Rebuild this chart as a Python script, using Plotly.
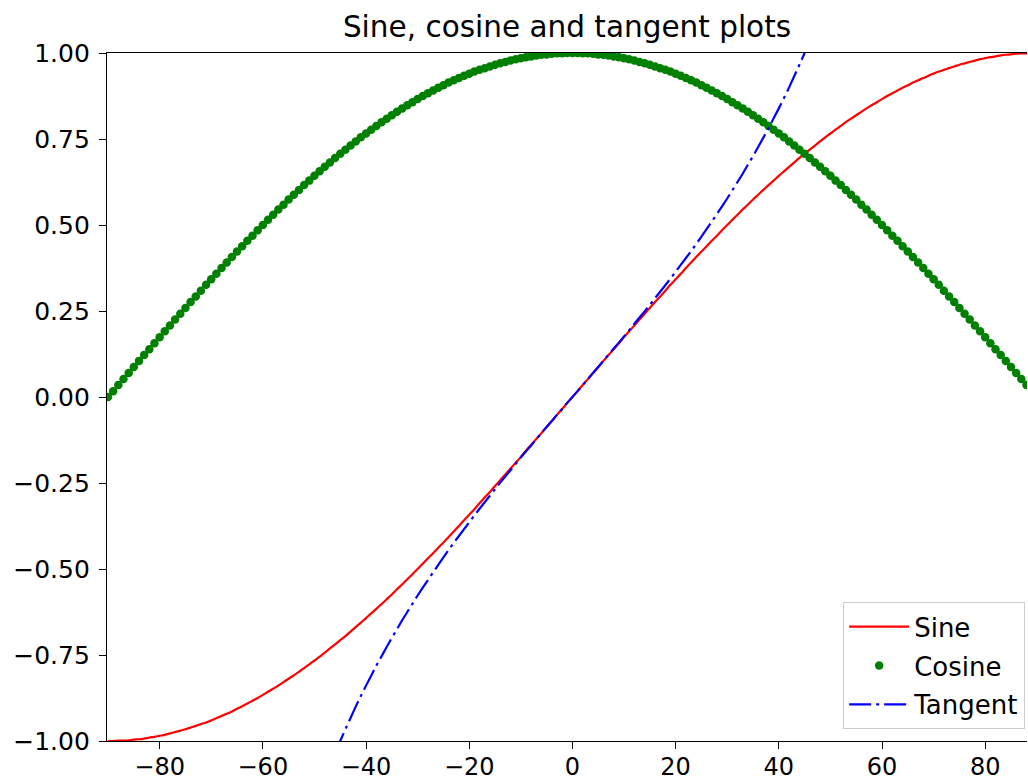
import plotly.graph_objects as go

angle_deg = [
    -90, -89, -88, -87, -86, -85, -84, -83, -82, -81,
    -80, -79, -78, -77, -76, -75, -74, -73, -72, -71,
    -70, -69, -68, -67, -66, -65, -64, -63, -62, -61,
    -60, -59, -58, -57, -56, -55, -54, -53, -52, -51,
    -50, -49, -48, -47, -46, -45, -44, -43, -42, -41,
    -40, -39, -38, -37, -36, -35, -34, -33, -32, -31,
    -30, -29, -28, -27, -26, -25, -24, -23, -22, -21,
    -20, -19, -18, -17, -16, -15, -14, -13, -12, -11,
    -10, -9, -8, -7, -6, -5, -4, -3, -2, -1,
    0,
    1, 2, 3, 4, 5, 6, 7, 8, 9, 10,
    11, 12, 13, 14, 15, 16, 17, 18, 19, 20,
    21, 22, 23, 24, 25, 26, 27, 28, 29, 30,
    31, 32, 33, 34, 35, 36, 37, 38, 39, 40,
    41, 42, 43, 44, 45, 46, 47, 48, 49, 50,
    51, 52, 53, 54, 55, 56, 57, 58, 59, 60,
    61, 62, 63, 64, 65, 66, 67, 68, 69, 70,
    71, 72, 73, 74, 75, 76, 77, 78, 79, 80,
    81, 82, 83, 84, 85, 86, 87, 88, 89, 90,
]

sine_vals = [
    -1.000, -1.000, -0.999, -0.999, -0.998, -0.996, -0.995, -0.993, -0.990, -0.988,
    -0.985, -0.982, -0.978, -0.974, -0.970, -0.966, -0.961, -0.956, -0.951, -0.946,
    -0.940, -0.934, -0.927, -0.921, -0.914, -0.906, -0.899, -0.891, -0.883, -0.875,
    -0.866, -0.857, -0.848, -0.839, -0.829, -0.819, -0.809, -0.799, -0.788, -0.777,
    -0.766, -0.755, -0.743, -0.731, -0.719, -0.707, -0.695, -0.682, -0.669, -0.656,
    -0.643, -0.629, -0.616, -0.602, -0.588, -0.574, -0.559, -0.545, -0.530, -0.515,
    -0.500, -0.485, -0.469, -0.454, -0.438, -0.423, -0.407, -0.391, -0.375, -0.358,
    -0.342, -0.326, -0.309, -0.292, -0.276, -0.259, -0.242, -0.225, -0.208, -0.191,
    -0.174, -0.156, -0.139, -0.122, -0.105, -0.087, -0.070, -0.052, -0.035, -0.017,
    0.000,
    0.017, 0.035, 0.052, 0.070, 0.087, 0.105, 0.122, 0.139, 0.156, 0.174,
    0.191, 0.208, 0.225, 0.242, 0.259, 0.276, 0.292, 0.309, 0.326, 0.342,
    0.358, 0.375, 0.391, 0.407, 0.423, 0.438, 0.454, 0.469, 0.485, 0.500,
    0.515, 0.530, 0.545, 0.559, 0.574, 0.588, 0.602, 0.616, 0.629, 0.643,
    0.656, 0.669, 0.682, 0.695, 0.707, 0.719, 0.731, 0.743, 0.755, 0.766,
    0.777, 0.788, 0.799, 0.809, 0.819, 0.829, 0.839, 0.848, 0.857, 0.866,
    0.875, 0.883, 0.891, 0.899, 0.906, 0.914, 0.921, 0.927, 0.934, 0.940,
    0.946, 0.951, 0.956, 0.961, 0.966, 0.970, 0.974, 0.978, 0.982, 0.985,
    0.988, 0.990, 0.993, 0.995, 0.996, 0.998, 0.999, 0.999, 1.000, 1.000,
]

cosine_vals = [
    0.000, 0.017, 0.035, 0.052, 0.070, 0.087, 0.105, 0.122, 0.139, 0.156,
    0.174, 0.191, 0.208, 0.225, 0.242, 0.259, 0.276, 0.292, 0.309, 0.326,
    0.342, 0.358, 0.375, 0.391, 0.407, 0.423, 0.438, 0.454, 0.469, 0.485,
    0.500, 0.515, 0.530, 0.545, 0.559, 0.574, 0.588, 0.602, 0.616, 0.629,
    0.643, 0.656, 0.669, 0.682, 0.695, 0.707, 0.719, 0.731, 0.743, 0.755,
    0.766, 0.777, 0.788, 0.799, 0.809, 0.819, 0.829, 0.839, 0.848, 0.857,
    0.866, 0.875, 0.883, 0.891, 0.899, 0.906, 0.914, 0.921, 0.927, 0.934,
    0.940, 0.946, 0.951, 0.956, 0.961, 0.966, 0.970, 0.974, 0.978, 0.982,
    0.985, 0.988, 0.990, 0.993, 0.995, 0.996, 0.998, 0.999, 0.999, 1.000,
    1.000,
    1.000, 0.999, 0.999, 0.998, 0.996, 0.995, 0.993, 0.990, 0.988, 0.985,
    0.982, 0.978, 0.974, 0.970, 0.966, 0.961, 0.956, 0.951, 0.946, 0.940,
    0.934, 0.927, 0.921, 0.914, 0.906, 0.899, 0.891, 0.883, 0.875, 0.866,
    0.857, 0.848, 0.839, 0.829, 0.819, 0.809, 0.799, 0.788, 0.777, 0.766,
    0.755, 0.743, 0.731, 0.719, 0.707, 0.695, 0.682, 0.669, 0.656, 0.643,
    0.629, 0.616, 0.602, 0.588, 0.574, 0.559, 0.545, 0.530, 0.515, 0.500,
    0.485, 0.469, 0.454, 0.438, 0.423, 0.407, 0.391, 0.375, 0.358, 0.342,
    0.326, 0.309, 0.292, 0.276, 0.259, 0.242, 0.225, 0.208, 0.191, 0.174,
    0.156, 0.139, 0.122, 0.105, 0.087, 0.070, 0.052, 0.035, 0.017, 0.000,
]

# tangent sampled from -46 to 46 degrees (clipped by the y range)
tan_angle_deg = angle_deg[44:137]
tangent_vals = [
    -1.036, -1.000, -0.966, -0.933, -0.900, -0.869, -0.839, -0.810, -0.781, -0.754,
    -0.727, -0.700, -0.675, -0.649, -0.625, -0.601, -0.577, -0.554, -0.532, -0.510,
    -0.488, -0.466, -0.445, -0.424, -0.404, -0.384, -0.364, -0.344, -0.325, -0.306,
    -0.287, -0.268, -0.249, -0.231, -0.213, -0.194, -0.176, -0.158, -0.141, -0.123,
    -0.105, -0.087, -0.070, -0.052, -0.035, -0.017,
    0.000,
    0.017, 0.035, 0.052, 0.070, 0.087, 0.105,
    0.123, 0.141, 0.158, 0.176, 0.194, 0.213, 0.231, 0.249, 0.268, 0.287,
    0.306, 0.325, 0.344, 0.364, 0.384, 0.404, 0.424, 0.445, 0.466, 0.488,
    0.510, 0.532, 0.554, 0.577, 0.601, 0.625, 0.649, 0.675, 0.700, 0.727,
    0.754, 0.781, 0.810, 0.839, 0.869, 0.900, 0.933, 0.966, 1.000, 1.036,
]

y_ticks = [-1.0, -0.75, -0.5, -0.25, 0.0, 0.25, 0.5, 0.75, 1.0]
x_ticks = [-80, -60, -40, -20, 0, 20, 40, 60, 80]

FONT = "DejaVu Sans"

fig = go.Figure()
fig.add_trace(go.Scatter(
    x=angle_deg, y=sine_vals, mode="lines", name="Sine",
    line=dict(color="#ff0000", width=2.2, simplify=False, shape="spline", smoothing=0.6),
    legendgroup="a",
))
fig.add_trace(go.Scatter(
    x=angle_deg, y=cosine_vals, mode="markers", name="Cosine",
    marker=dict(color="#008000", size=8.5, line=dict(width=0)), legendgroup="b",
))
fig.add_trace(go.Scatter(
    x=tan_angle_deg, y=tangent_vals, mode="lines", name="Tangent",
    line=dict(color="#0000ff", width=2.2, dash="22px,5px,3px,5px", simplify=False),
    legendgroup="c",
))

fig.update_layout(
    width=1028, height=781,
    margin=dict(l=107, r=1, t=53, b=40, autoexpand=False),
    paper_bgcolor="white", plot_bgcolor="white",
    font=dict(family=FONT, size=25, color="black"),
    title=dict(
        text="Sine, cosine and tangent plots",
        font=dict(family=FONT, size=29.5, color="black"),
        x=0.5, xref="paper", xanchor="center",
        y=1 - 27 / 781, yref="container", yanchor="middle",
    ),
    showlegend=True,
    legend=dict(
        x=0.998, y=0.017, xanchor="right", yanchor="bottom",
        bgcolor="rgba(255,255,255,0.8)", bordercolor="#cccccc", borderwidth=1,
        font=dict(family=FONT, size=26, color="black"),
        traceorder="grouped", tracegroupgap=2, itemwidth=60,
    ),
    xaxis=dict(
        range=[-90.2, 88.1], tickvals=x_ticks,
        showgrid=False, zeroline=False, automargin=False,
        showline=True, linecolor="black", linewidth=1.3, mirror=True,
        ticks="outside", ticklen=7, tickwidth=1.3, tickcolor="black",
        tickfont=dict(family=FONT, size=24, color="black"),
        ticklabelstandoff=-3,
    ),
    yaxis=dict(
        range=[-1.0, 1.0], tickvals=y_ticks, tickformat=".2f",
        showgrid=False, zeroline=False, automargin=False,
        showline=True, linecolor="black", linewidth=1.3, mirror=False,
        ticks="outside", ticklen=7, tickwidth=1.3, tickcolor="black",
        tickfont=dict(family=FONT, size=25, color="black"),
        ticklabelstandoff=4,
    ),
)

fig.write_html("out.html")
